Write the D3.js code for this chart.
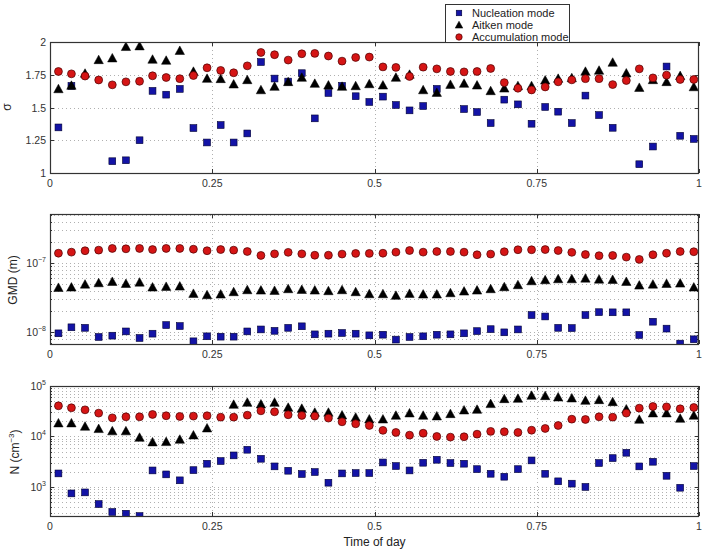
<!DOCTYPE html>
<meta charset="utf-8">
<title>Modal parameters vs time of day</title>
<style>
* { margin: 0; padding: 0; }
body { background: #fff; font-family: "Liberation Sans", Arial, sans-serif; }
svg { display: block; }
.grid line { stroke: #b0b0b0; stroke-width: 1; stroke-dasharray: 1,3; }
.tick-label { font-size: 10.5px; fill: #333; }
.axis-label { font-size: 12px; fill: #222; }
</style>
<body>
<div id="chart"></div>
<script src="https://d3js.org/d3.v7.min.js"></script>
<script>

// time of day of each sample (fraction of a day)
var timeOfDay = [0.013, 0.033, 0.054, 0.075, 0.096, 0.117, 0.138, 0.158, 0.179, 0.200,
  0.221, 0.242, 0.263, 0.283, 0.304, 0.325, 0.346, 0.367, 0.388, 0.408,
  0.429, 0.450, 0.471, 0.492, 0.513, 0.533, 0.554, 0.575, 0.596, 0.617,
  0.638, 0.658, 0.679, 0.700, 0.721, 0.742, 0.763, 0.783, 0.804, 0.825,
  0.846, 0.867, 0.888, 0.908, 0.929, 0.950, 0.971, 0.992];

var modeNames = ["Nucleation mode", "Aitken mode", "Accumulation mode"];

// geometric standard deviation
var sigmaNuc = [1.348, 1.665, null, null, 1.09, 1.097, 1.25, 1.627, 1.598, 1.642,
  1.343, 1.233, 1.366, 1.233, 1.302, 1.847, 1.721, 1.698, 1.762, 1.417,
  1.611, 1.665, 1.586, 1.542, 1.583, 1.519, 1.478, 1.511, 1.642, null,
  1.488, 1.465, 1.381, 1.56, 1.524, 1.376, 1.504, 1.468, 1.381, 1.591,
  1.442, 1.345, null, 1.067, 1.202, 1.813, 1.284, 1.26];
var sigmaAit = [1.642, 1.668, 1.76, 1.864, 1.877, 1.964, 1.969, 1.867, 1.859, 1.934,
  1.775, 1.721, 1.719, 1.678, 1.711, 1.634, 1.66, 1.696, 1.729, 1.683,
  1.67, 1.66, 1.665, 1.68, 1.67, 1.729, 1.752, 1.634, 1.614, 1.675,
  1.683, 1.67, 1.627, 1.647, 1.665, 1.665, 1.708, 1.721, 1.726, 1.775,
  1.783, 1.844, 1.762, 1.652, 1.711, 1.696, 1.742, 1.657];
var sigmaAcc = [1.775, 1.757, 1.74, 1.71, 1.673, 1.696, 1.70, 1.742, 1.729, 1.72,
  1.744, 1.803, 1.783, 1.765, 1.818, 1.92, 1.903, 1.862, 1.91, 1.913,
  1.893, 1.854, 1.882, 1.885, 1.81, 1.806, 1.737, 1.808, 1.795, 1.775,
  1.772, 1.775, 1.798, 1.69, 1.647, 1.634, 1.657, 1.696, 1.711, 1.72,
  1.72, 1.675, 1.706, 1.795, 1.726, 1.747, 1.714, 1.714];

// geometric mean diameter (m)
var gmdNuc = [9.57e-9, 1.17e-8, 1.15e-8, 8.47e-9, 8.85e-9, 1.02e-8, 8.19e-9, 9.46e-9, 1.26e-8, 1.22e-8,
  7.33e-9, 8.66e-9, 8.56e-9, 8.56e-9, 1.02e-8, 1.09e-8, 1.04e-8, 1.15e-8, 1.21e-8, 9.25e-9,
  9.46e-9, 9.68e-9, 9.46e-9, 8.95e-9, 9.14e-9, 7.76e-9, 8.47e-9, 8.66e-9, 9.14e-9, 9.25e-9,
  9.57e-9, 1.03e-8, 1.10e-8, 9.89e-9, 1.09e-8, 1.76e-8, 1.68e-8, 1.15e-8, 1.14e-8, 1.76e-8,
  1.94e-8, 1.93e-8, 1.93e-8, 9.05e-9, 1.41e-8, 1.12e-8, 6.79e-9, 7.84e-9];
var gmdAit = [4.41e-8, 4.46e-8, 4.92e-8, 5.15e-8, 5.38e-8, 5.03e-8, 5.26e-8, 4.46e-8, 4.56e-8, 4.61e-8,
  3.61e-8, 3.45e-8, 3.53e-8, 3.82e-8, 4.08e-8, 4.03e-8, 3.99e-8, 4.22e-8, 4.12e-8, 4.03e-8,
  3.95e-8, 4.08e-8, 3.82e-8, 3.57e-8, 3.57e-8, 3.38e-8, 3.61e-8, 3.53e-8, 3.53e-8, 3.69e-8,
  3.90e-8, 4.03e-8, 4.22e-8, 4.51e-8, 4.82e-8, 5.50e-8, 5.69e-8, 5.88e-8, 5.88e-8, 6.01e-8,
  5.81e-8, 5.75e-8, 5.38e-8, 4.76e-8, 4.92e-8, 5.03e-8, 5.09e-8, 4.46e-8];
var gmdAcc = [1.39e-7, 1.44e-7, 1.51e-7, 1.54e-7, 1.63e-7, 1.61e-7, 1.63e-7, 1.57e-7, 1.63e-7, 1.63e-7,
  1.59e-7, 1.51e-7, 1.57e-7, 1.54e-7, 1.47e-7, 1.29e-7, 1.36e-7, 1.43e-7, 1.36e-7, 1.30e-7,
  1.30e-7, 1.35e-7, 1.38e-7, 1.38e-7, 1.39e-7, 1.44e-7, 1.52e-7, 1.44e-7, 1.47e-7, 1.47e-7,
  1.44e-7, 1.32e-7, 1.35e-7, 1.46e-7, 1.56e-7, 1.56e-7, 1.57e-7, 1.52e-7, 1.43e-7, 1.33e-7,
  1.28e-7, 1.29e-7, 1.22e-7, 1.13e-7, 1.32e-7, 1.39e-7, 1.47e-7, 1.46e-7];

// number concentration (cm-3)
var numNuc = [1850, 743, 778, 457, 318, 294, 264, 2120, 1770, 1350,
  2150, 2880, 3250, 4210, 5450, 3610, 2550, 2090, 1800, 1970,
  1210, 1850, 1880, 1880, 3050, 2590, 2120, 3010, 3450, 2970,
  2880, 2250, 1820, 1590, 2250, 3350, 1820, 1290, 1160, 1000,
  2970, 3720, 4750, 2550, 3150, 1660, 962, 2590];
var numAit = [18400, 18400, 15800, 14200, 12800, 12800, 9550, 7730, 7840, 8730,
  10600, 14600, null, 43000, 47100, 43600, 47100, 37500, 35800, 29900,
  29900, 26400, 23900, 22000, 22000, 26100, 29000, 26100, 25300, 28100,
  33200, 34200, 44400, 55700, 56500, 64800, 63900, 60100, 57400, 51600,
  53200, 48500, 34800, 21700, 29000, 29000, 22700, 26100];
var numAcc = [40500, 37000, 33700, 29000, 23400, 24500, 24500, 27300, 25700, 24900,
  25300, 25700, 24100, 24100, 26400, 32200, 30800, 26900, 26100, 25300,
  23100, 19500, 17800, 16500, 13200, 12000, 10600, 11600, 10000, 9700,
  9850, 11100, 12600, 12400, 12000, 13300, 14400, 16500, 22000, 21700,
  24500, 24100, 29000, 36400, 39300, 38600, 35300, 37500];

var xTicks = [0, 0.25, 0.5, 0.75, 1];
var xTickLabels = ["0", "0.25", "0.5", "0.75", "1"];
var sigmaTicks = [1, 1.25, 1.5, 1.75, 2];
var sigmaTickLabels = ["1", "1.25", "1.5", "1.75", "2"];

var width = 710, height = 550;
var left = 50, right = 699;

var svg = d3.select("#chart").append("svg")
  .attr("width", width)
  .attr("height", height);

var x = d3.scaleLinear().domain([0, 1]).range([left, right]);

var panels = [
  { top: 42, bottom: 173, log: false, domain: [1, 2],
    series: [sigmaNuc, sigmaAit, sigmaAcc] },
  { top: 214, bottom: 344, log: true, domain: [6.7e-9, 5.15e-7],
    series: [gmdNuc, gmdAit, gmdAcc] },
  { top: 386, bottom: 516, log: true, domain: [265, 1e5],
    series: [numNuc, numAit, numAcc] }
];

function minorLogTicks(domain) {
  var out = [];
  var lo = Math.floor(Math.log10(domain[0])), hi = Math.ceil(Math.log10(domain[1]));
  for (var e = lo; e <= hi; e++) {
    for (var m = 1; m < 10; m++) {
      var v = m * Math.pow(10, e);
      if (v >= domain[0] && v <= domain[1]) out.push({ v: v, major: m == 1, e: e });
    }
  }
  return out;
}

function drawMarker(g, mode, cx, cy, size) {
  if (mode == 0) {
    g.append("rect")
      .attr("x", cx - size / 2).attr("y", cy - size / 2)
      .attr("width", size).attr("height", size)
      .attr("fill", "#1313a6").attr("stroke", "#000033").attr("stroke-width", 0.6);
  } else if (mode == 1) {
    var s = size * 1.25;
    g.append("path")
      .attr("d", "M" + cx + "," + (cy - s * 0.55) + "L" + (cx + s * 0.55) + "," + (cy + s * 0.45) +
        "L" + (cx - s * 0.55) + "," + (cy + s * 0.45) + "Z")
      .attr("fill", "#000").attr("stroke", "#000").attr("stroke-width", 0.5);
  } else {
    g.append("circle")
      .attr("cx", cx).attr("cy", cy).attr("r", size * 0.58)
      .attr("fill", "#d51515").attr("stroke", "#4a0000").attr("stroke-width", 0.7);
  }
}

panels.forEach(function(p, pi) {
  var y = (p.log ? d3.scaleLog() : d3.scaleLinear())
    .domain(p.domain).range([p.bottom, p.top]);

  var g = svg.append("g");
  var grid = g.append("g").attr("class", "grid");

  // horizontal grid and y ticks
  var yTicks;
  if (p.log) {
    yTicks = minorLogTicks(p.domain);
  } else {
    yTicks = sigmaTicks.map(function(v, i) { return { v: v, major: true, label: sigmaTickLabels[i] }; });
  }
  yTicks.forEach(function(t) {
    var yy = Math.round(y(t.v)) + 0.5;
    if (yy > p.top + 1 && yy < p.bottom - 1) {
      grid.append("line").attr("x1", left).attr("x2", right).attr("y1", yy).attr("y2", yy);
    }
    var len = t.major ? 4 : 2;
    g.append("line").attr("x1", left).attr("x2", left + len).attr("y1", yy).attr("y2", yy)
      .attr("stroke", "#333");
    g.append("line").attr("x1", right).attr("x2", right - len).attr("y1", yy).attr("y2", yy)
      .attr("stroke", "#333");
    if (t.major) {
      var txt = g.append("text").attr("class", "tick-label")
        .attr("x", left - 4).attr("y", yy + 3.5).attr("text-anchor", "end");
      if (p.log) {
        txt.append("tspan").text("10");
        txt.append("tspan").attr("dy", -5).attr("font-size", "7px")
          .text(t.e < 0 ? "\u2212" + Math.abs(t.e) : String(t.e));
      } else {
        txt.text(t.label);
      }
    }
  });

  // vertical grid and x ticks
  xTicks.forEach(function(v, i) {
    var xx = Math.round(x(v)) + 0.5;
    if (v > 0 && v < 1) {
      grid.append("line").attr("x1", xx).attr("x2", xx).attr("y1", p.top).attr("y2", p.bottom);
    }
    g.append("line").attr("x1", xx).attr("x2", xx).attr("y1", p.bottom).attr("y2", p.bottom - 4)
      .attr("stroke", "#333");
    g.append("line").attr("x1", xx).attr("x2", xx).attr("y1", p.top).attr("y2", p.top + 4)
      .attr("stroke", "#333");
    g.append("text").attr("class", "tick-label")
      .attr("x", x(v)).attr("y", p.bottom + 14).attr("text-anchor", "middle")
      .text(xTickLabels[i]);
  });

  // markers, clipped to axes
  var clipId = "clip" + pi;
  svg.append("clipPath").attr("id", clipId).append("rect")
    .attr("x", left).attr("y", p.top).attr("width", right - left).attr("height", p.bottom - p.top);
  var marks = g.append("g").attr("clip-path", "url(#" + clipId + ")");
  p.series.forEach(function(vals, mode) {
    vals.forEach(function(v, i) {
      if (v == null) return;
      drawMarker(marks, mode, x(timeOfDay[i]), y(v), 6.8);
    });
  });

  // frame
  g.append("rect")
    .attr("x", left + 0.5).attr("y", p.top + 0.5)
    .attr("width", right - left - 1).attr("height", p.bottom - p.top)
    .attr("fill", "none").attr("stroke", "#333").attr("stroke-width", 1.2);
});

// axis labels
svg.append("text").attr("class", "axis-label")
  .attr("transform", "translate(11,107) rotate(-90)").attr("text-anchor", "middle")
  .attr("font-size", "13px").text("\u03c3");
svg.append("text").attr("class", "axis-label")
  .attr("transform", "translate(17,280) rotate(-90)").attr("text-anchor", "middle")
  .text("GMD (m)");
var nLab = svg.append("text").attr("class", "axis-label")
  .attr("transform", "translate(19,452) rotate(-90)").attr("text-anchor", "middle");
nLab.append("tspan").text("N (cm");
nLab.append("tspan").attr("dy", -5).attr("font-size", "8px").text("\u22123");
nLab.append("tspan").attr("dy", 5).text(")");

svg.append("text").attr("class", "axis-label")
  .attr("x", (left + right) / 2).attr("y", 546).attr("text-anchor", "middle")
  .text("Time of day");

// legend
var legend = svg.append("g");
legend.append("rect")
  .attr("x", 445.5).attr("y", 4.5).attr("width", 124).attr("height", 38)
  .attr("fill", "#fff").attr("stroke", "#333").attr("stroke-width", 1);
modeNames.forEach(function(name, i) {
  var ly = 13 + i * 12;
  drawMarker(legend, i, 459, ly, 5.5);
  legend.append("text").attr("x", 472).attr("y", ly + 4)
    .attr("font-size", "11px").attr("fill", "#222").text(name);
});

</script>
</body>
